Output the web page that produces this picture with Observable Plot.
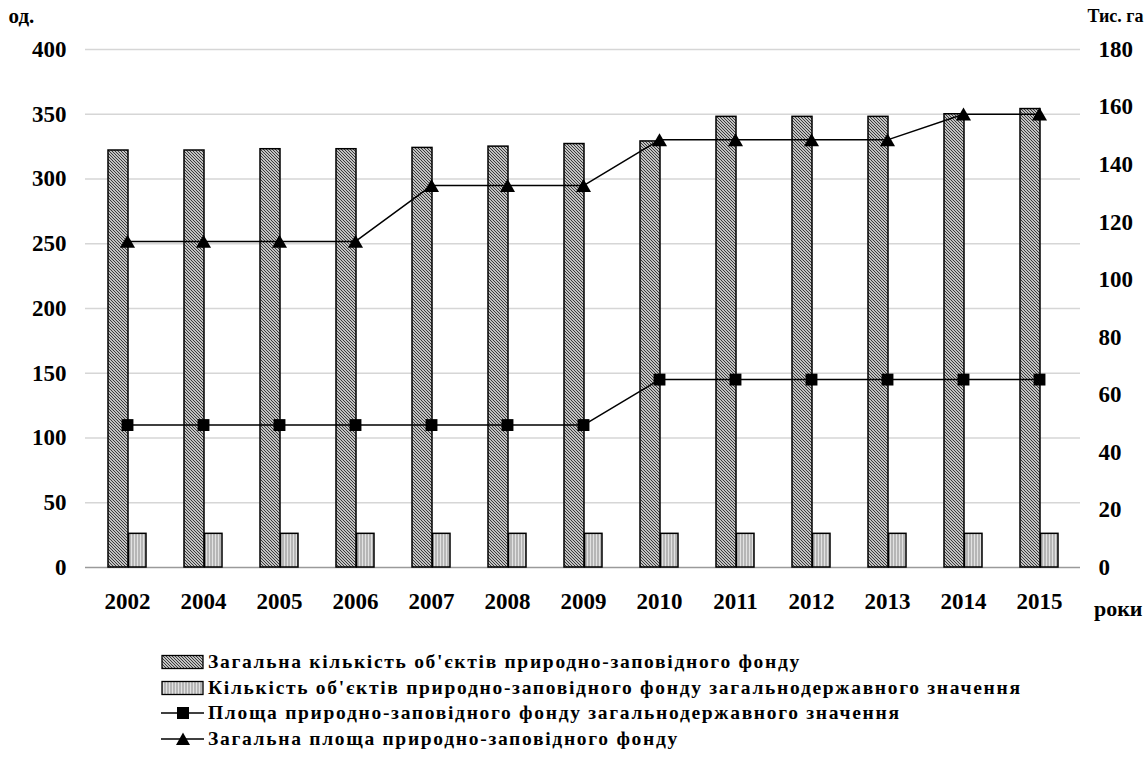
<!DOCTYPE html>
<html><head><meta charset="utf-8">
<script src="https://cdn.jsdelivr.net/npm/d3@7"></script>
<script src="https://cdn.jsdelivr.net/npm/@observablehq/plot@0.6"></script>
<style>
body{margin:0;background:#fff;font-family:"Liberation Serif","Times New Roman",serif;}
#legend{margin-left:161px;margin-top:9px;}
.item{display:flex;align-items:center;height:25.7px;font-weight:bold;font-size:19.5px;color:#000;white-space:nowrap;}
.item svg{margin-right:3px;flex:none;}
</style></head><body>
<svg width="0" height="0" style="position:absolute">
<defs>
<pattern id="hatchA" width="3" height="3" patternUnits="userSpaceOnUse">
 <rect width="3" height="3" fill="#fff"/>
 <path d="M-1,-1 L4,4 M2,-1 L4,1 M-1,2 L1,4" stroke="#333" stroke-width="1.15"/>
</pattern>
<pattern id="hatchB" width="3" height="3" patternUnits="userSpaceOnUse">
 <rect width="3" height="3" fill="#e2e2e2"/>
 <path d="M1,0 V3" stroke="#8a8a8a" stroke-width="1"/>
</pattern>
</defs></svg>
<div id="chart"></div>
<div id="legend"></div>
<script>
const years = ["2002","2004","2005","2006","2007","2008","2009","2010","2011","2012","2013","2014","2015"];
const totalObjects = [322, 322, 323, 323, 324, 325, 327, 329, 348, 348, 348, 350, 354];
const nationalObjects = [26, 26, 26, 26, 26, 26, 26, 26, 26, 26, 26, 26, 26];
const nationalArea = [49.5, 49.5, 49.5, 49.5, 49.5, 49.5, 49.5, 65.3, 65.3, 65.3, 65.3, 65.3, 65.3];
const totalArea = [113.3, 113.3, 113.3, 113.3, 132.7, 132.7, 132.7, 148.6, 148.6, 148.6, 148.6, 157.5, 157.5];
const leftTicks = [0, 50, 100, 150, 200, 250, 300, 350, 400];
const rightTicks = [0, 20, 40, 60, 80, 100, 120, 140, 160, 180];
const legendLabels = [
  "Загальна кількість об'єктів природно-заповідного фонду",
  "Кількість об'єктів природно-заповідного фонду загальнодержавного значення",
  "Площа природно-заповідного фонду загальнодержавного значення",
  "Загальна площа природно-заповідного фонду"
];

const k = 400 / 180;
const rows = years.map((y, i) => ({
  year: y, total: totalObjects[i], nat: nationalObjects[i],
  natArea: nationalArea[i] * k, totArea: totalArea[i] * k
}));
const FS = 23;
const font = {fontSize: FS, fontWeight: "bold", fill: "#000"};

const chart = Plot.plot({
  width: 1148, height: 640,
  marginLeft: 85, marginRight: 68, marginTop: 49, marginBottom: 73,
  style: {fontFamily: "'Liberation Serif', 'Times New Roman', serif", fontSize: FS + "px", fontWeight: "bold", color: "#000", background: "#fff"},
  x: {type: "band", domain: years, padding: 0},
  y: {domain: [0, 400]},
  marks: [
    Plot.gridY(leftTicks.filter(v => v > 0), {stroke: "#d6d6d6", strokeOpacity: 1, strokeWidth: 1.5}),
    Plot.ruleY([0], {stroke: "#9a9a9a", strokeWidth: 1.5}),
    Plot.axisY(leftTicks, {anchor: "left", tickSize: 0, tickPadding: 19, label: null, ...font}),
    Plot.axisY(rightTicks.map(v => v * k), {anchor: "right", tickSize: 0, tickPadding: 18, label: null, tickFormat: v => Math.round(v / k), ...font}),
    Plot.axisX({tickSize: 0, tickPadding: 25, label: null, ...font}),
    Plot.barY(rows, {x: "year", y: "total", fill: "url(#hatchA)", stroke: "#000", strokeWidth: 1.5, insetLeft: 19, insetRight: 37}),
    Plot.barY(rows, {x: "year", y: "nat", fill: "url(#hatchB)", stroke: "#000", strokeWidth: 1.5, insetLeft: 39.5, insetRight: 19}),
    Plot.line(rows, {x: "year", y: "natArea", stroke: "#000", strokeWidth: 1.5}),
    Plot.dot(rows, {x: "year", y: "natArea", symbol: "square", r: 6.7, fill: "#000", stroke: null}),
    Plot.line(rows, {x: "year", y: "totArea", stroke: "#000", strokeWidth: 1.5}),
    Plot.dot(rows, {x: "year", y: "totArea", symbol: "triangle", r: 5.6, fill: "#000", stroke: null, dy: 2}),
    Plot.text(["од."], {frameAnchor: "top-left", textAnchor: "start", lineAnchor: "middle", dx: -77, dy: -33, ...font, fontSize: 21}),
    Plot.text(["Тис. га"], {frameAnchor: "top-right", textAnchor: "end", lineAnchor: "middle", dx: 63, dy: -33, ...font, fontSize: 18}),
    Plot.text(["роки"], {frameAnchor: "bottom-right", textAnchor: "end", lineAnchor: "middle", dx: 62, dy: 41, ...font, fontSize: 22})
  ]
});
document.getElementById("chart").appendChild(chart);

const ns = "http://www.w3.org/2000/svg";
const legend = document.getElementById("legend");
const spans = [];
legendLabels.forEach((label, i) => {
  const item = document.createElement("div");
  item.className = "item";
  const s = document.createElementNS(ns, "svg");
  s.setAttribute("width", 44); s.setAttribute("height", 16);
  if (i < 2) {
    const r = document.createElementNS(ns, "rect");
    r.setAttribute("x", 1); r.setAttribute("y", 1.5); r.setAttribute("width", 41); r.setAttribute("height", 13);
    r.setAttribute("fill", i === 0 ? "url(#hatchA)" : "url(#hatchB)");
    r.setAttribute("stroke", "#000"); r.setAttribute("stroke-width", 1.3);
    s.appendChild(r);
  } else {
    const l = document.createElementNS(ns, "line");
    l.setAttribute("x1", 0); l.setAttribute("x2", 43); l.setAttribute("y1", 8); l.setAttribute("y2", 8);
    l.setAttribute("stroke", "#000"); l.setAttribute("stroke-width", 1.5);
    s.appendChild(l);
    const p = document.createElementNS(ns, "path");
    p.setAttribute("d", i === 2 ? "M16,2H28V14H16Z" : "M22,1.5L29,14H15Z");
    p.setAttribute("fill", "#000");
    s.appendChild(p);
  }
  item.appendChild(s);
  const t = document.createElement("span");
  t.textContent = label;
  item.appendChild(t);
  legend.appendChild(item);
  spans.push(t);
});
// widen legend text slightly (reference text is set wider)
const w0 = spans[0].getBoundingClientRect().width;
const ls = Math.max(0, (593 - w0) / legendLabels[0].length);
spans.forEach(t => t.style.letterSpacing = ls + "px");
</script>
</body></html>
